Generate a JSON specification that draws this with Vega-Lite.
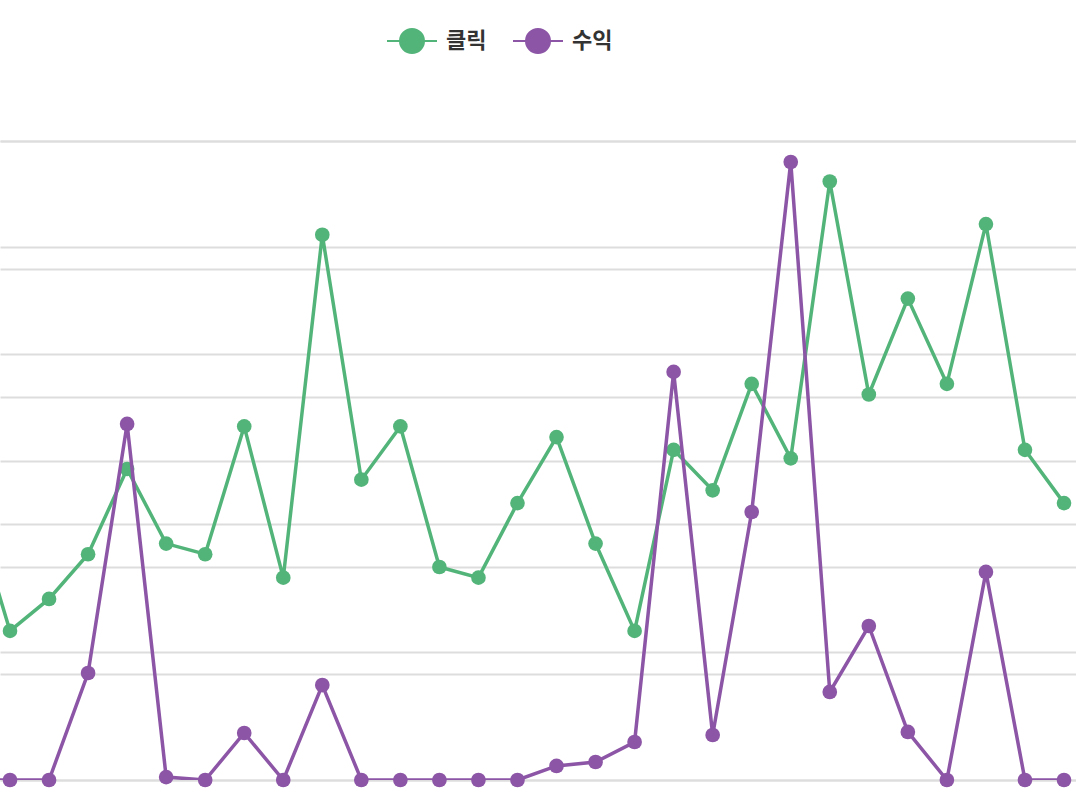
{
  "$schema": "https://vega.github.io/schema/vega-lite/v6.json",
  "width": 1076,
  "height": 639,
  "autosize": {"type": "none"},
  "padding": {"top": 141, "left": 0, "right": 0, "bottom": 16},
  "background": "white",
  "config": {
    "view": {"stroke": null},
    "font": "Noto Sans CJK KR"
  },
  "data": {
    "values": [
      {"i": -1, "series": "클릭", "value": 131},
      {"i": 0, "series": "클릭", "value": 70},
      {"i": 1, "series": "클릭", "value": 85},
      {"i": 2, "series": "클릭", "value": 106},
      {"i": 3, "series": "클릭", "value": 146},
      {"i": 4, "series": "클릭", "value": 111},
      {"i": 5, "series": "클릭", "value": 106},
      {"i": 6, "series": "클릭", "value": 166},
      {"i": 7, "series": "클릭", "value": 95},
      {"i": 8, "series": "클릭", "value": 256},
      {"i": 9, "series": "클릭", "value": 141},
      {"i": 10, "series": "클릭", "value": 166},
      {"i": 11, "series": "클릭", "value": 100},
      {"i": 12, "series": "클릭", "value": 95},
      {"i": 13, "series": "클릭", "value": 130},
      {"i": 14, "series": "클릭", "value": 161},
      {"i": 15, "series": "클릭", "value": 111},
      {"i": 16, "series": "클릭", "value": 70},
      {"i": 17, "series": "클릭", "value": 155},
      {"i": 18, "series": "클릭", "value": 136},
      {"i": 19, "series": "클릭", "value": 186},
      {"i": 20, "series": "클릭", "value": 151},
      {"i": 21, "series": "클릭", "value": 281},
      {"i": 22, "series": "클릭", "value": 181},
      {"i": 23, "series": "클릭", "value": 226},
      {"i": 24, "series": "클릭", "value": 186},
      {"i": 25, "series": "클릭", "value": 261},
      {"i": 26, "series": "클릭", "value": 155},
      {"i": 27, "series": "클릭", "value": 130},
      {"i": -1, "series": "수익", "value": 0},
      {"i": 0, "series": "수익", "value": 0},
      {"i": 1, "series": "수익", "value": 0},
      {"i": 2, "series": "수익", "value": 8370},
      {"i": 3, "series": "수익", "value": 27860},
      {"i": 4, "series": "수익", "value": 230},
      {"i": 5, "series": "수익", "value": 0},
      {"i": 6, "series": "수익", "value": 3680},
      {"i": 7, "series": "수익", "value": 0},
      {"i": 8, "series": "수익", "value": 7430},
      {"i": 9, "series": "수익", "value": 0},
      {"i": 10, "series": "수익", "value": 0},
      {"i": 11, "series": "수익", "value": 0},
      {"i": 12, "series": "수익", "value": 0},
      {"i": 13, "series": "수익", "value": 0},
      {"i": 14, "series": "수익", "value": 1100},
      {"i": 15, "series": "수익", "value": 1410},
      {"i": 16, "series": "수익", "value": 2970},
      {"i": 17, "series": "수익", "value": 31930},
      {"i": 18, "series": "수익", "value": 3520},
      {"i": 19, "series": "수익", "value": 20970},
      {"i": 20, "series": "수익", "value": 48360},
      {"i": 21, "series": "수익", "value": 6890},
      {"i": 22, "series": "수익", "value": 12050},
      {"i": 23, "series": "수익", "value": 3760},
      {"i": 24, "series": "수익", "value": 0},
      {"i": 25, "series": "수익", "value": 16280},
      {"i": 26, "series": "수익", "value": 0},
      {"i": 27, "series": "수익", "value": 0}
    ]
  },
  "encoding": {
    "x": {
      "field": "i",
      "type": "quantitative",
      "scale": {"domain": [-0.2562, 27.3074], "nice": false, "zero": false},
      "axis": null
    },
    "color": {
      "field": "series",
      "type": "nominal",
      "scale": {"domain": ["클릭", "수익"], "range": ["#53b47a", "#8c55a6"]},
      "legend": {
        "title": null,
        "orient": "none",
        "direction": "horizontal",
        "legendX": 386,
        "legendY": -126,
        "padding": 0,
        "symbolType": "M-1,0L-0.48,0M0.48,0L1,0M-0.48,0A0.48,0.48,0,1,1,0.48,0A0.48,0.48,0,1,1,-0.48,0Z",
        "symbolSize": 2500,
        "symbolStrokeWidth": 2,
        "symbolOpacity": 1,
        "labelFont": "Noto Sans CJK KR",
        "labelFontSize": 22,
        "labelFontWeight": "bold",
        "labelColor": "#333333",
        "labelOffset": 8,
        "columnPadding": 22,
        "encode": {
          "symbols": {
            "update": {
              "fill": {"scale": "color", "field": "value"},
              "stroke": {"scale": "color", "field": "value"},
              "opacity": {"value": 1}
            }
          }
        }
      }
    }
  },
  "layer": [
    {
      "transform": [{"filter": "datum.series === '클릭'"}],
      "encoding": {
        "y": {
          "field": "value",
          "type": "quantitative",
          "scale": {"domain": [0, 300], "nice": false},
          "axis": {
            "orient": "left",
            "values": [0, 50, 100, 150, 200, 250, 300],
            "labels": false,
            "ticks": false,
            "domain": false,
            "title": null,
            "grid": true,
            "gridColor": "#dddddd",
            "gridWidth": 2
          }
        }
      },
      "layer": [
        {"mark": {"type": "line", "strokeWidth": 3.5, "clip": true}},
        {"mark": {"type": "point", "filled": true, "size": 215, "opacity": 1, "clip": true}}
      ]
    },
    {
      "transform": [{"filter": "datum.series === '수익'"}],
      "encoding": {
        "y": {
          "field": "value",
          "type": "quantitative",
          "scale": {"domain": [0, 50000], "nice": false},
          "axis": {
            "orient": "right",
            "values": [0, 10000, 20000, 30000, 40000, 50000],
            "labels": false,
            "ticks": false,
            "domain": false,
            "title": null,
            "grid": true,
            "gridColor": "#dddddd",
            "gridWidth": 2
          }
        }
      },
      "layer": [
        {"mark": {"type": "line", "strokeWidth": 3.5, "clip": true}},
        {"mark": {"type": "point", "filled": true, "size": 215, "opacity": 1, "clip": false}}
      ]
    }
  ],
  "resolve": {"scale": {"y": "independent"}}
}
